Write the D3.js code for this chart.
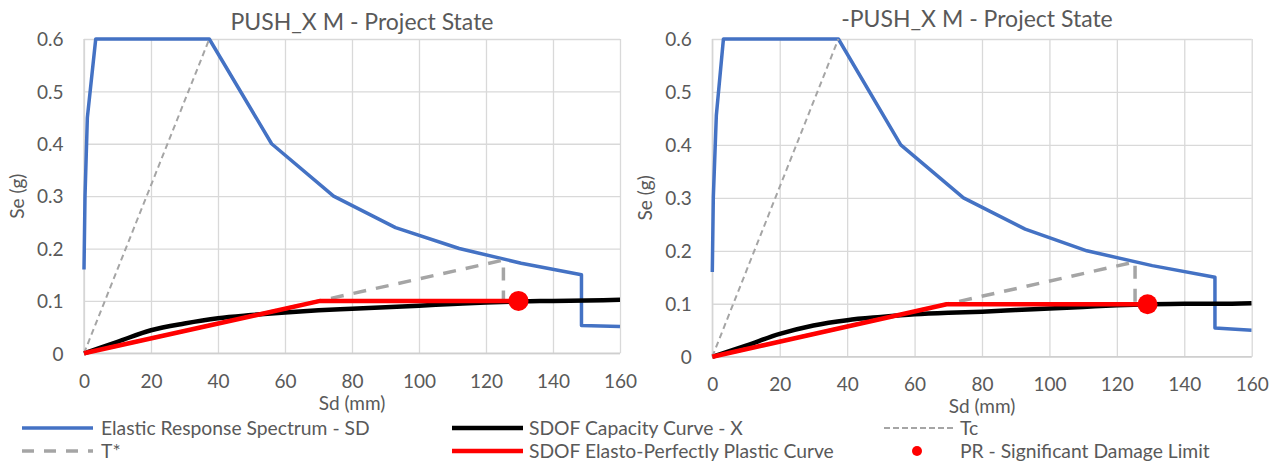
<!DOCTYPE html>
<html><head><meta charset="utf-8">
<script src="https://cdn.jsdelivr.net/npm/d3@7"></script>
<style>
body{margin:0;background:#fff;}
text{font-family:Lato,'Liberation Sans',sans-serif;fill:#595959;}
</style>
</head><body>
<svg id="chart" width="1277" height="463"></svg>
<script>
// ---------- data ----------
const titles = ["PUSH_X M - Project State", "-PUSH_X M - Project State"];
const xTickValues = [0, 20, 40, 60, 80, 100, 120, 140, 160];
const yTickValues = [0, 0.1, 0.2, 0.3, 0.4, 0.5, 0.6];
const yTickLabels = ["0", "0.1", "0.2", "0.3", "0.4", "0.5", "0.6"];
const xAxisTitle = "Sd (mm)";
const yAxisTitle = "Se (g)";
const seriesNames = ["Elastic Response Spectrum - SD", "SDOF Capacity Curve - X", "Tc", "T*",
                     "SDOF Elasto-Perfectly Plastic Curve", "PR - Significant Damage Limit"];

// left panel (PUSH_X)
const spectrumSdL = [0, 0.3, 1.0, 3.5, 37.4, 56, 74.5, 93, 112, 130.5, 148.5, 148.5, 160];
const spectrumSeL = [0.16, 0.3, 0.45, 0.6, 0.6, 0.4, 0.3, 0.24, 0.2, 0.172, 0.15, 0.053, 0.051];
const capacitySdL = [0, 10, 20, 30, 40, 50, 60, 70, 80, 90, 100, 110, 120, 130, 140, 150, 160];
const capacitySeL = [0, 0.022, 0.044, 0.057, 0.067, 0.073, 0.078, 0.082, 0.085, 0.088, 0.091, 0.094, 0.097, 0.099, 0.1, 0.101, 0.102];
const tcSdL = [0, 37.4];
const tcSeL = [0, 0.6];
const tStarSdL = [0, 125.2, 125.2];
const tStarSeL = [0, 0.178, 0.1];
const eppSdL = [0, 70.5, 129.7];
const eppSeL = [0, 0.1, 0.1];
const prSdL = [129.7];
const prSeL = [0.1];

// right panel (-PUSH_X)
const spectrumSdR = [0, 0.3, 1.2, 3.3, 37.4, 55.9, 74.5, 92.8, 111.1, 130.5, 149.1, 149.1, 160];
const spectrumSeR = [0.16, 0.3, 0.456, 0.6, 0.6, 0.4, 0.3, 0.241, 0.2, 0.172, 0.15, 0.054, 0.05];
const capacitySdR = [0, 10, 20, 30, 40, 50, 60, 70, 80, 90, 100, 110, 120, 130, 140, 150, 160];
const capacitySeR = [0, 0.021, 0.043, 0.059, 0.069, 0.075, 0.080, 0.083, 0.085, 0.088, 0.091, 0.094, 0.097, 0.099, 0.1, 0.1, 0.101];
const tcSdR = [0, 37.4];
const tcSeR = [0, 0.6];
const tStarSdR = [0, 125.4, 125.4];
const tStarSeR = [0, 0.179, 0.099];
const eppSdR = [0, 69.5, 129.1];
const eppSeR = [0, 0.099, 0.099];
const prSdR = [129.1];
const prSeR = [0.099];

// ---------- styles ----------
const BLUE = "#4472C4", GRAY = "#A5A5A5", RED = "#FF0000", BLACK = "#000000";
const FONT = "Lato,'Liberation Sans',sans-serif";

const zip = (a, b) => a.map((v, i) => [v, b[i]]);

const panels = [
  { title: titles[0], left: 84, right: 620, top: 39, bottom: 353.3, titleX: 362, titleY: 30, xLabY: 34.7, xTitleY: 410, yTitleX: 17,
    spectrum: zip(spectrumSdL, spectrumSeL), capacity: zip(capacitySdL, capacitySeL),
    tc: zip(tcSdL, tcSeL), tstar: zip(tStarSdL, tStarSeL), epp: zip(eppSdL, eppSeL), pr: zip(prSdL, prSeL) },
  { title: titles[1], left: 712.3, right: 1251.7, top: 39, bottom: 356.7, titleX: 977, titleY: 26.7, xLabY: 34.7, xTitleY: 413, yTitleX: 645,
    spectrum: zip(spectrumSdR, spectrumSeR), capacity: zip(capacitySdR, capacitySeR),
    tc: zip(tcSdR, tcSeR), tstar: zip(tStarSdR, tStarSeR), epp: zip(eppSdR, eppSeR), pr: zip(prSdR, prSeR) }
];

const svg = d3.select("#chart");

panels.forEach((p, idx) => {
  const x = d3.scaleLinear().domain([0, 160]).range([p.left, p.right]);
  const y = d3.scaleLinear().domain([0, 0.6]).range([p.bottom, p.top]);
  const g = svg.append("g");

  // title
  g.append("text").attr("x", p.titleX).attr("y", p.titleY)
    .attr("text-anchor", "middle").style("font-size", "23px").text(p.title);

  // gridlines
  const gy = g.append("g").attr("transform", `translate(${p.left},0)`)
    .call(d3.axisLeft(y).tickValues(yTickValues).tickSize(-(p.right - p.left)).tickFormat(""));
  gy.select(".domain").remove();
  gy.selectAll("line").attr("stroke", "#d9d9d9").attr("stroke-width", 1.3);
  const gx = g.append("g").attr("transform", `translate(0,${p.bottom})`)
    .call(d3.axisBottom(x).tickValues(xTickValues).tickSize(-(p.bottom - p.top)).tickFormat(""));
  gx.select(".domain").remove();
  gx.selectAll("line").attr("stroke", "#d9d9d9").attr("stroke-width", 1.3);
  // axis base lines
  g.append("line").attr("x1", p.left).attr("x2", p.right).attr("y1", y(0)).attr("y2", y(0))
    .attr("stroke", "#cfcfcf").attr("stroke-width", 1.5);
  g.append("line").attr("x1", x(0)).attr("x2", x(0)).attr("y1", y(0)).attr("y2", y(0.6))
    .attr("stroke", "#d4d4d4").attr("stroke-width", 1.3);

  // tick labels
  const ly = g.append("g").attr("transform", `translate(${p.left},0)`)
    .call(d3.axisLeft(y).tickValues(yTickValues).tickSize(0).tickPadding(20.5)
      .tickFormat((d, i) => yTickLabels[i]));
  ly.select(".domain").remove();
  ly.selectAll("text").style("font-size", "19px").attr("fill", "#595959").attr("dy", "0.36em")
    .style("font-family", FONT);
  const lx = g.append("g").attr("transform", `translate(0,${p.bottom})`)
    .call(d3.axisBottom(x).tickValues(xTickValues).tickSize(0).tickFormat(d3.format("d")));
  lx.select(".domain").remove();
  lx.selectAll("text").style("font-size", "19px").attr("fill", "#595959").attr("y", p.xLabY).attr("dy", null)
    .style("font-family", FONT);

  // axis titles
  g.append("text").attr("x", (p.left + p.right) / 2).attr("y", p.xTitleY)
    .attr("text-anchor", "middle").style("font-size", "19px").text(xAxisTitle);
  g.append("text").attr("transform", `translate(${p.yTitleX},${(p.top + p.bottom) / 2}) rotate(-90)`)
    .attr("text-anchor", "middle").attr("dy", "0.35em").style("font-size", "19px").text(yAxisTitle);

  // series
  const line = d3.line().x(d => x(d[0])).y(d => y(d[1]));
  const clipId = "clip" + idx;
  svg.append("clipPath").attr("id", clipId).append("rect")
    .attr("x", p.left - 5).attr("y", p.top - 5).attr("width", p.right - p.left + 5).attr("height", p.bottom - p.top + 10);
  const s = g.append("g").attr("clip-path", `url(#${clipId})`);
  s.append("path").attr("d", line(p.spectrum)).attr("fill", "none").attr("stroke", BLUE)
    .attr("stroke-width", 3.5).attr("stroke-linejoin", "round");
  s.append("path").attr("d", d3.line().curve(d3.curveMonotoneX).x(d => x(d[0])).y(d => y(d[1]))(p.capacity))
    .attr("fill", "none").attr("stroke", BLACK).attr("stroke-width", 4.5);
  s.append("path").attr("d", line(p.tc)).attr("fill", "none").attr("stroke", GRAY)
    .attr("stroke-width", 2).attr("stroke-dasharray", "6,4");
  s.append("path").attr("d", line(p.tstar)).attr("fill", "none").attr("stroke", GRAY)
    .attr("stroke-width", 3.5).attr("stroke-dasharray", "13,10");
  s.append("path").attr("d", line(p.epp)).attr("fill", "none").attr("stroke", RED)
    .attr("stroke-width", 4.5).attr("stroke-linejoin", "round");
  g.selectAll(null).data(p.pr).enter().append("circle")
    .attr("cx", d => x(d[0])).attr("cy", d => y(d[1])).attr("r", 10).attr("fill", RED);
});

// ---------- legend ----------
const legendItems = [
  { name: seriesNames[0], kind: "line", color: BLUE, w: 3.5, dash: null, lx: 22, tx: 101, row: 0 },
  { name: seriesNames[1], kind: "line", color: BLACK, w: 4.5, dash: null, lx: 452, tx: 529, row: 0 },
  { name: seriesNames[2], kind: "line", color: GRAY, w: 2, dash: "6,3", lx: 884, tx: 960, row: 0 },
  { name: seriesNames[3], kind: "line", color: GRAY, w: 3.5, dash: "12,10", lx: 22, tx: 101, row: 1 },
  { name: seriesNames[4], kind: "line", color: RED, w: 4.5, dash: null, lx: 452, tx: 529, row: 1 },
  { name: seriesNames[5], kind: "dot", color: RED, lx: 912, tx: 960, row: 1 }
];
const rowY = [428, 451];
const lg = svg.append("g");
legendItems.forEach(it => {
  const yy = rowY[it.row];
  if (it.kind === "line") {
    lg.append("line").attr("x1", it.lx).attr("x2", it.lx + 71).attr("y1", yy).attr("y2", yy)
      .attr("stroke", it.color).attr("stroke-width", it.w).attr("stroke-dasharray", it.dash);
  } else {
    lg.append("circle").attr("cx", it.lx + 5).attr("cy", yy).attr("r", 5).attr("fill", it.color);
  }
  lg.append("text").attr("x", it.tx).attr("y", yy).attr("dy", "0.36em")
    .style("font-size", "19.3px").text(it.name);
});
</script>
</body></html>
